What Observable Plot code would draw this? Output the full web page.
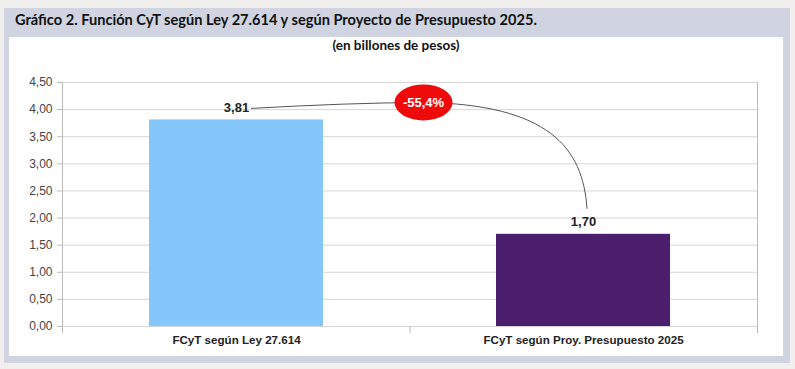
<!DOCTYPE html>
<html><head><meta charset="utf-8">
<script src="https://cdn.jsdelivr.net/npm/d3@7"></script>
<script src="https://cdn.jsdelivr.net/npm/@observablehq/plot@0.6"></script>
<style>
html,body{margin:0;padding:0;background:#f1f0ee;width:795px;height:369px;overflow:hidden}
#frame{position:absolute;left:4px;top:8px;width:786px;height:355px;background:#cfd4e0}
#title{position:absolute;left:11px;top:3px;height:28px;line-height:28px;font:bold 14.6px Lato, sans-serif;color:#111;white-space:nowrap}
#panel{position:absolute;left:5px;top:29px;width:774px;height:319px;background:#fff}
#sub{height:30px;line-height:34px;text-align:center;font:bold 13.5px Lato, sans-serif;color:#111}
#chart svg{display:block}
</style>
</head><body>
<div id="frame">
  <div id="title">Gráfico 2. Función CyT según Ley 27.614 y según Proyecto de Presupuesto 2025.</div>
  <div id="panel">
    <div id="sub">(en billones de pesos)</div>
    <div id="chart"></div>
  </div>
</div>
<script>
const categories = ["FCyT según Ley 27.614", "FCyT según Proy. Presupuesto 2025"];
const values = [3.81, 1.70];
const barColors = ["#85c7fb", "#4b1f6e"];
const yTicks = [0, 0.5, 1, 1.5, 2, 2.5, 3, 3.5, 4, 4.5];
const changeLabel = "-55,4%";

const data = categories.map((c, i) => ({cat: c, value: values[i], color: barColors[i]}));
const fmt = d => d.toFixed(2).replace(".", ",");

const plot = Plot.plot({
  width: 774, height: 289,
  marginLeft: 53, marginRight: 26, marginTop: 15, marginBottom: 30,
  style: {fontFamily: "'Liberation Sans', Arial, sans-serif", fontSize: "12px", color: "#444", background: "transparent"},
  x: {domain: categories, paddingInner: 0.5, paddingOuter: 0.25, label: null},
  y: {domain: [0, 4.5], label: null},
  color: {type: "identity"},
  marks: [
    Plot.gridY(yTicks, {stroke: "#d6d6d6", strokeOpacity: 1}),
    Plot.axisY(yTicks, {tickSize: 5, tickPadding: 5, tickFormat: fmt, stroke: "#bbb", fill: "#444", fontSize: 12, label: null}),
    Plot.axisX({tickSize: 0, tickPadding: 9, fontWeight: "bold", fontSize: 11.6, fill: "#222", label: null}),
    Plot.barY(data, {x: "cat", y: "value", fill: "color"}),
    Plot.text(data, {x: "cat", y: "value", text: d => fmt(d.value), dy: -12, fontWeight: "bold", fontSize: 13, fill: "#222"})
  ]
});
document.getElementById("chart").appendChild(plot);

// annotations drawn from the plot's own scales
const svg = d3.select(plot);
const xs = plot.scale("x"), ys = plot.scale("y");
const bw = xs.bandwidth;
const cx = c => xs.apply(c) + bw / 2;
const x0 = xs.range[0], x1 = xs.range[1], xm = (x0 + x1) / 2;
const yTop = ys.apply(4.5), yZero = ys.apply(0);

const g = svg.append("g").attr("stroke", "#bbb").attr("stroke-width", 1);
g.append("line").attr("x1", x0 + 0.5).attr("x2", x0 + 0.5).attr("y1", yTop).attr("y2", yZero + 7);
g.append("line").attr("x1", x1 + 0.5).attr("x2", x1 + 0.5).attr("y1", yTop).attr("y2", yZero + 7);
g.append("line").attr("x1", xm + 0.5).attr("x2", xm + 0.5).attr("y1", yZero).attr("y2", yZero + 7);

const lab0x = cx(categories[0]), lab0y = ys.apply(values[0]) - 12;
const lab1x = cx(categories[1]), lab1y = ys.apply(values[1]) - 12;
const ex = xm + 14, ey = lab0y - 5;
const sx = lab0x + 15, sy = lab0y + 1;
const tx = lab1x + 4, ty = lab1y - 13;
const path = d3.path();
path.moveTo(sx, sy);
path.quadraticCurveTo((sx + ex) / 2 + 10, ey + 0.5, ex, ey);
path.bezierCurveTo(ex + 125, ey + 2, tx - 4, ey + 45, tx, ty);
svg.append("path").attr("d", path.toString()).attr("fill", "none").attr("stroke", "#555").attr("stroke-width", 1);
svg.append("ellipse").attr("cx", ex).attr("cy", ey).attr("rx", 29).attr("ry", 18).attr("fill", "#ee0a0a");
svg.append("text").attr("x", ex).attr("y", ey).attr("dy", "0.35em").attr("text-anchor", "middle")
  .attr("fill", "#fff").attr("font-weight", "bold").attr("font-size", 13)
  .attr("font-family", "'Liberation Sans', Arial, sans-serif").text(changeLabel);
</script>
</body></html>
